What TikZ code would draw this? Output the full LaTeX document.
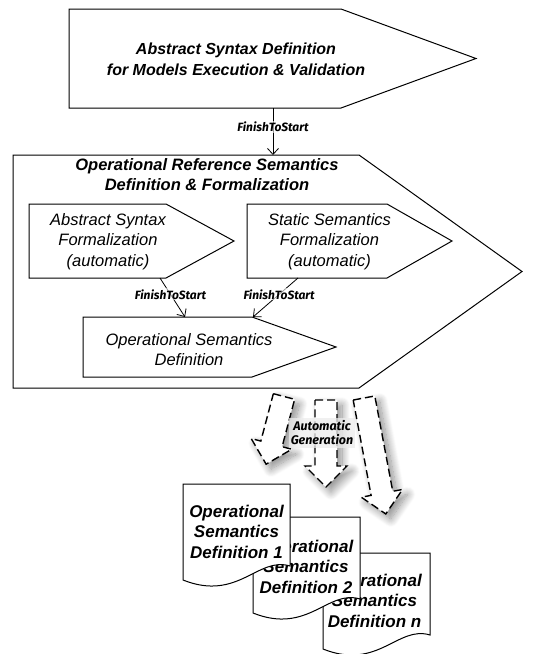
\documentclass[tikz,border=0pt]{standalone}
\usepackage{fontspec}
\setmainfont{Liberation Sans}
\newfontfamily\lblfont{Fira Sans}
\usetikzlibrary{arrows.meta,shadows.blur}
\tikzset{
  boxline/.style={draw, line width=1pt, fill=white, line join=miter},
  boldtxt/.style={font=\fontsize{16}{21}\selectfont\bfseries\itshape, align=center, inner sep=0pt},
  titletxt/.style={font=\fontsize{16.5}{20}\selectfont\bfseries\itshape, align=center, inner sep=0pt},
  plaintxt/.style={font=\fontsize{16.5}{20.5}\selectfont\itshape, align=center, inner sep=0pt},
  doctxt/.style={font=\fontsize{17}{20.5}\selectfont\bfseries\itshape, align=center, inner sep=0pt},
  lbl/.style={font=\lblfont\fontsize{12}{13}\selectfont\bfseries\itshape, fill=white, fill opacity=0.6, text opacity=1, inner sep=1pt},
  conn/.style={line width=0.8pt, -{Straight Barb[length=6pt,width=11pt]}},
  fatarrow/.style={draw, dash pattern=on 8pt off 4pt, line width=1.4pt, fill=white, line join=miter,
    blur shadow={shadow xshift=5pt, shadow yshift=-5pt, shadow blur radius=8pt, shadow blur steps=16, shadow opacity=45}},
  genlbl/.style={font=\lblfont\fontsize{12.5}{14}\selectfont\bfseries\itshape, align=center, fill=gray!15, fill opacity=0.75, text opacity=1, inner xsep=2pt, inner ysep=3pt},
}
\newcommand{\pentagon}[6]{\path[boxline] (#1,#2) -- (#5,#2) -- (#6,{(#2+#4)/2}) -- (#5,#4) -- (#1,#4) -- cycle;}
\newcommand{\docshape}[2]{\path[boxline, shift={(#1,#2)}] (0,0) -- (107,0) -- (107,82) .. controls (75,72) and (55,118) .. (0,96) -- cycle;}
\newcommand{\fatarr}[4]{\begin{scope}[shift={(#1,#2)}, rotate=#3]
  \path[fatarrow] (-11,0) -- (11,0) -- (11,{#4-21}) -- (21,{#4-21}) -- (0,#4) -- (-21,{#4-21}) -- (-11,{#4-21}) -- cycle;
\end{scope}}
\begin{document}
\begin{tikzpicture}[x=1pt,y=-1pt]
\useasboundingbox (0,0) rectangle (537,654);
% top box
\pentagon{69}{9}{476}{108}{341}{476}
\node[boldtxt] (absdef) at (236,59.5) {Abstract Syntax Definition\\for Models Execution \& Validation};
% outer box
\pentagon{13}{155}{522}{388}{359}{522}
\node[titletxt] (opref) at (207,175) {Operational Reference Semantics\\Definition \& Formalization};
% inner boxes
\pentagon{29}{204}{234}{278}{166}{234}
\node[plaintxt] (asform) at (108,241.5) {Abstract Syntax\\Formalization\\(automatic)};
\pentagon{247}{204}{452}{278}{387}{452}
\node[plaintxt] (ssform) at (329.5,241.5) {Static Semantics\\Formalization\\(automatic)};
\pentagon{83}{317}{336}{377}{252}{336}
\node[plaintxt] (osdef) at (189,349.5) {Operational Semantics\\Definition};
% connector coordinates
\coordinate (topout) at (273,108);
\coordinate (outin) at (273,155);
\coordinate (aout) at (160,278);
\coordinate (bout) at (298,278);
\coordinate (cin1) at (185,317);
\coordinate (cin2) at (253,317);
\draw[conn] (topout) -- (outin) node[lbl, pos=0.4] {FinishToStart};
\draw[conn] (aout) -- (cin1) node[lbl, pos=0.42] {FinishToStart};
\draw[conn] (bout) -- (cin2) node[lbl, pos=0.42] {FinishToStart};
% automatic generation arrows
\fatarr{284}{396.5}{-14.8}{70}
\fatarr{326}{400}{0}{87}
\fatarr{364}{398}{10.65}{118}
\node[genlbl] (autogen) at (322,433) {Automatic\\Generation};
% documents
\docshape{323}{553}
\node[doctxt] (doc3) at (374.5,600.5) {Operational\\Semantics\\Definition n};
\docshape{253}{517}
\node[doctxt] (doc2) at (306,566.5) {Operational\\Semantics\\Definition 2};
\docshape{183}{484}
\node[doctxt] (doc1) at (236.5,531.5) {Operational\\Semantics\\Definition 1};
\end{tikzpicture}
\end{document}
